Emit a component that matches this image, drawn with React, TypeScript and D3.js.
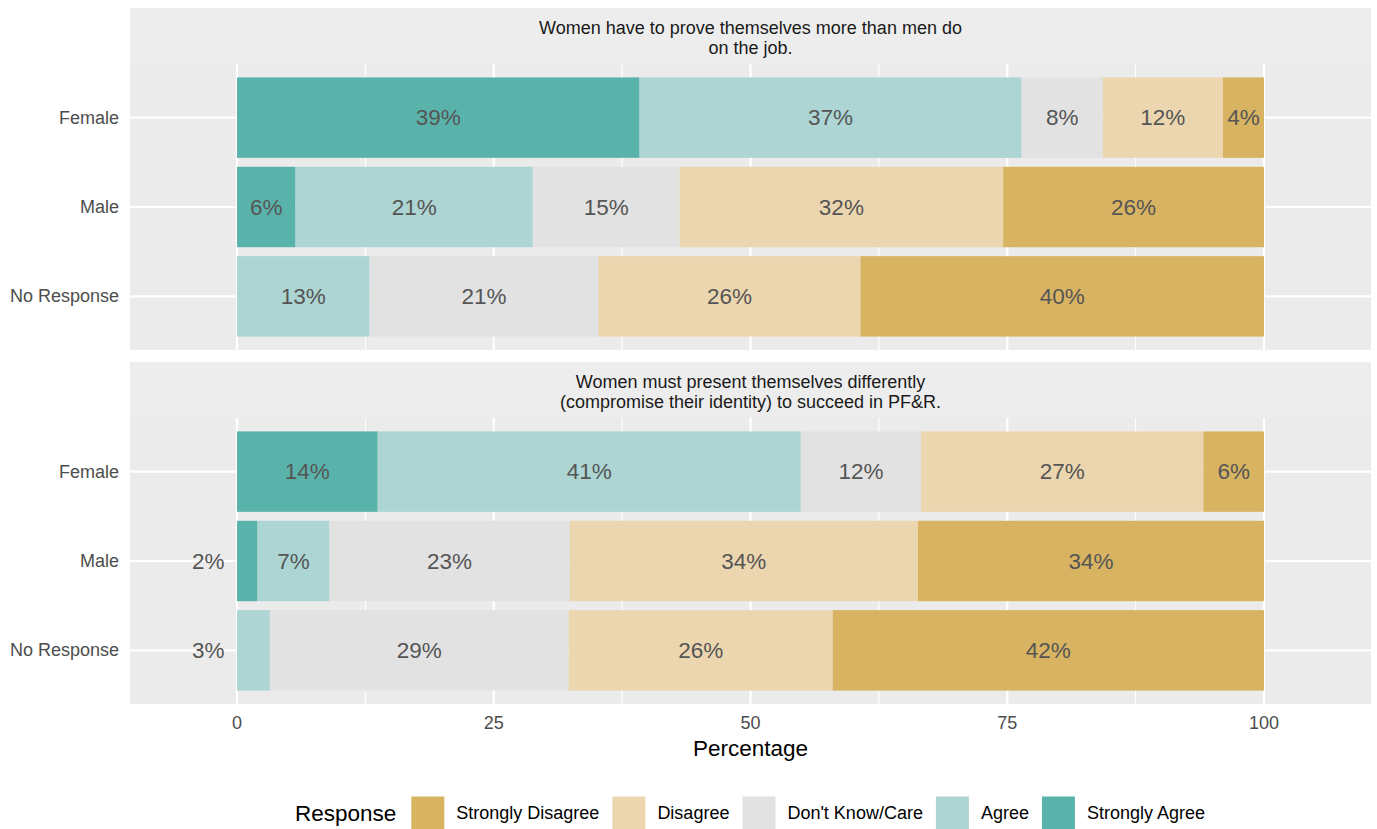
import React from 'react';
import * as d3 from 'd3';

// ---- data ----
const questions = [
  ['Women have to prove themselves more than men do', 'on the job.'],
  ['Women must present themselves differently', '(compromise their identity) to succeed in PF&R.'],
];
const groups = ['Female', 'Male', 'No Response'];
// stacking order, left to right
const responses = ['Strongly Agree', 'Agree', "Don't Know/Care", 'Disagree', 'Strongly Disagree'];
const legendOrder = ['Strongly Disagree', 'Disagree', "Don't Know/Care", 'Agree', 'Strongly Agree'];

// bar widths (percent) per question -> group -> response
const q1Values = [
  [39.2, 37.2, 7.9, 11.7, 4.0],
  [5.7, 23.1, 14.3, 31.5, 25.4],
  [0, 12.9, 22.3, 25.5, 39.3],
];
const q2Values = [
  [13.7, 41.2, 11.7, 27.5, 5.9],
  [2.0, 7.0, 23.4, 33.9, 33.7],
  [0, 3.2, 29.1, 25.7, 42.0],
];
// printed percentages
const q1Labels = [
  [39, 37, 8, 12, 4],
  [6, 21, 15, 32, 26],
  [null, 13, 21, 26, 40],
];
const q2Labels = [
  [14, 41, 12, 27, 6],
  [2, 7, 23, 34, 34],
  [null, 3, 29, 26, 42],
];
const xTicks = [0, 25, 50, 75, 100];
const xMinor = [12.5, 37.5, 62.5, 87.5];

const COLORS: Record<string, string> = {
  'Strongly Agree': '#5AB3AB',
  'Agree': '#ACD5D3',
  "Don't Know/Care": '#E2E2E2',
  'Disagree': '#ECD6AF',
  'Strongly Disagree': '#D8B362',
};

const FONT = '"Liberation Sans", Arial, Helvetica, sans-serif';
const W = 1377;
const H = 829;
const panelLeft = 130;
const panelRight = 1371;
const SMALL = 18;
const BIG = 22.5;
const panels = [
  { stripTop: 8, top: 64, bottom: 350, values: q1Values, labels: q1Labels, title: questions[0] },
  { stripTop: 362, top: 418, bottom: 704, values: q2Values, labels: q2Labels, title: questions[1] },
];

const measure = (() => {
  const c = typeof document !== 'undefined' ? document.createElement('canvas').getContext('2d') : null;
  return (t: string, size: number) => {
    if (!c) return t.length * size * 0.5;
    c.font = `${size}px ${FONT}`;
    return c.measureText(t).width;
  };
})();

const App: React.FC = () => {
  const x = d3.scaleLinear().domain([0, 100]).range([237, 1264]);
  const cx = (panelLeft + panelRight) / 2;

  // legend layout
  const legendKey = 33;
  const titleW = measure('Response', BIG);
  const items = legendOrder.map((r) => ({ r, w: measure(r, SMALL) }));
  let total = titleW + 15;
  items.forEach((it, i) => { total += legendKey + 12 + it.w + (i < items.length - 1 ? 13 : 0); });
  let lx = cx - total / 2;
  const legendStart = lx;
  lx += titleW + 15;
  const legendPos = items.map((it) => {
    const pos = { ...it, x: lx };
    lx += legendKey + 12 + it.w + 13;
    return pos;
  });
  const legendY = 813;

  return (
    <div style={{ position: 'absolute', left: 0, top: 0 }}>
      <svg width={W} height={H} style={{ display: 'block', background: '#fff' }} fontFamily={FONT}>
        {panels.map((p, pi) => {
          const y = d3.scaleBand<string>().domain(groups).range([p.top, p.bottom]).paddingInner(0.1).paddingOuter(0.15);
          return (
            <g key={pi}>
              <rect x={panelLeft} y={p.stripTop} width={panelRight - panelLeft} height={p.top - p.stripTop} fill="#EDEDED" />
              {p.title.map((line, li) => (
                <text key={li} x={cx} y={p.stripTop + 20 + li * 20} textAnchor="middle" dominantBaseline="central" fontSize={SMALL} fill="#1A1A1A">
                  {line}
                </text>
              ))}
              <rect x={panelLeft} y={p.top} width={panelRight - panelLeft} height={p.bottom - p.top} fill="#EBEBEB" />
              {xMinor.map((t) => (
                <line key={'m' + t} x1={x(t)} x2={x(t)} y1={p.top} y2={p.bottom} stroke="#fff" strokeWidth={1.1} />
              ))}
              {xTicks.map((t) => (
                <line key={'M' + t} x1={x(t)} x2={x(t)} y1={p.top} y2={p.bottom} stroke="#fff" strokeWidth={2.2} />
              ))}
              {groups.map((g) => (
                <line key={'h' + g} x1={panelLeft} x2={panelRight} y1={y(g)! + y.bandwidth() / 2} y2={y(g)! + y.bandwidth() / 2} stroke="#fff" strokeWidth={2.2} />
              ))}
              {groups.map((g, gi) => {
                const starts = d3.cumsum([0, ...p.values[gi]]);
                return (
                  <g key={g}>
                    {responses.map((r, ri) => {
                      const v = p.values[gi][ri];
                      if (!v) return null;
                      return (
                        <rect key={r} x={x(starts[ri])} y={y(g)} width={x(starts[ri] + v) - x(starts[ri])} height={y.bandwidth()} fill={COLORS[r]} />
                      );
                    })}
                    {responses.map((r, ri) => {
                      const lab = p.labels[gi][ri];
                      if (lab == null) return null;
                      const v = p.values[gi][ri];
                      const pos = lab < 4 ? -2.8 : starts[ri] + v / 2;
                      return (
                        <text key={'t' + r} x={x(pos)} y={y(g)! + y.bandwidth() / 2} textAnchor="middle" dominantBaseline="central" fontSize={BIG} fill="#555555">
                          {lab}%
                        </text>
                      );
                    })}
                    <text x={119} y={y(g)! + y.bandwidth() / 2} textAnchor="end" dominantBaseline="central" fontSize={SMALL} fill="#4D4D4D">
                      {g}
                    </text>
                  </g>
                );
              })}
            </g>
          );
        })}
        {xTicks.map((t) => (
          <text key={t} x={x(t)} y={723} textAnchor="middle" dominantBaseline="central" fontSize={SMALL} fill="#4D4D4D">
            {t}
          </text>
        ))}
        <text x={cx} y={748} textAnchor="middle" dominantBaseline="central" fontSize={BIG} fill="#000">
          Percentage
        </text>
        <text x={legendStart} y={legendY} dominantBaseline="central" fontSize={BIG} fill="#000">
          Response
        </text>
        {legendPos.map((it) => (
          <g key={it.r}>
            <rect x={it.x} y={legendY - legendKey / 2} width={legendKey} height={legendKey} fill={COLORS[it.r]} />
            <text x={it.x + legendKey + 12} y={legendY} dominantBaseline="central" fontSize={SMALL} fill="#000">
              {it.r}
            </text>
          </g>
        ))}
      </svg>
    </div>
  );
};

export default App;
